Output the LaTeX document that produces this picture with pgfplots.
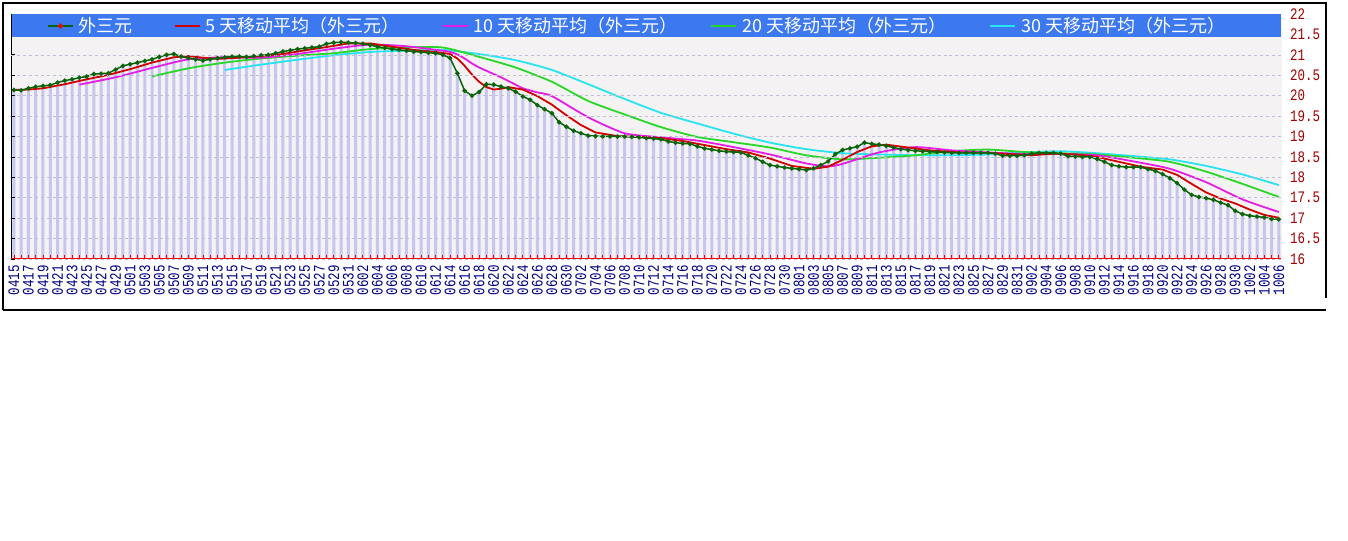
\documentclass[border=0pt]{standalone}
\usepackage{pgfplots}
\pgfplotsset{compat=1.18}
\usepackage{pgfplotstable}
\usepackage{fontspec}
\setmainfont{Liberation Sans}
\newfontfamily\cjk{Noto Sans CJK SC}
\newfontfamily\tickfont[FakeStretch=0.78]{Liberation Mono}

\definecolor{legblue}{RGB}{60,120,240}
\definecolor{barlav}{RGB}{198,198,240}
\definecolor{gridc}{RGB}{190,190,215}
\definecolor{paper}{RGB}{244,242,242}
\definecolor{pricegreen}{RGB}{10,100,10}
\definecolor{dotred}{RGB}{215,15,15}
\definecolor{maA}{RGB}{210,0,0}
\definecolor{maB}{RGB}{228,30,228}
\definecolor{maC}{RGB}{40,215,40}
\definecolor{maD}{RGB}{40,228,240}
\definecolor{ylab}{RGB}{160,0,0}
\definecolor{xlab}{RGB}{0,0,128}

% day index 0 = 0415 ... 174 = 1006
\pgfplotstableread[row sep=\\]{
d p\\
0 20.14\\ 1 20.13\\ 2 20.18\\ 3 20.22\\ 4 20.24\\ 5 20.26\\ 6 20.32\\ 7 20.37\\ 8 20.40\\ 9 20.44\\
10 20.47\\ 11 20.53\\ 12 20.54\\ 13 20.55\\ 14 20.64\\ 15 20.73\\ 16 20.77\\ 17 20.81\\ 18 20.85\\ 19 20.89\\
20 20.95\\ 21 21.00\\ 22 21.02\\ 23 20.96\\ 24 20.92\\ 25 20.89\\ 26 20.86\\ 27 20.89\\ 28 20.92\\ 29 20.94\\
30 20.96\\ 31 20.96\\ 32 20.95\\ 33 20.97\\ 34 20.99\\ 35 21.00\\ 36 21.04\\ 37 21.08\\ 38 21.11\\ 39 21.14\\
40 21.16\\ 41 21.18\\ 42 21.20\\ 43 21.27\\ 44 21.30\\ 45 21.31\\ 46 21.30\\ 47 21.29\\ 48 21.27\\ 49 21.24\\
50 21.20\\ 51 21.17\\ 52 21.14\\ 53 21.12\\ 54 21.10\\ 55 21.08\\ 56 21.07\\ 57 21.05\\ 58 21.04\\ 59 21.00\\
60 20.92\\ 61 20.55\\ 62 20.12\\ 63 20.00\\ 64 20.09\\ 65 20.28\\ 66 20.27\\ 67 20.22\\ 68 20.18\\ 69 20.10\\
70 19.98\\ 71 19.90\\ 72 19.77\\ 73 19.67\\ 74 19.57\\ 75 19.35\\ 76 19.24\\ 77 19.14\\ 78 19.08\\ 79 19.02\\
80 19.01\\ 81 19.00\\ 82 19.00\\ 83 19.00\\ 84 19.00\\ 85 18.99\\ 86 18.98\\ 87 18.96\\ 88 18.95\\ 89 18.93\\
90 18.88\\ 91 18.85\\ 92 18.83\\ 93 18.82\\ 94 18.76\\ 95 18.71\\ 96 18.68\\ 97 18.65\\ 98 18.63\\ 99 18.62\\
100 18.61\\ 101 18.54\\ 102 18.47\\ 103 18.38\\ 104 18.30\\ 105 18.27\\ 106 18.24\\ 107 18.22\\ 108 18.20\\ 109 18.18\\
110 18.22\\ 111 18.30\\ 112 18.39\\ 113 18.57\\ 114 18.67\\ 115 18.71\\ 116 18.75\\ 117 18.85\\ 118 18.82\\ 119 18.80\\
120 18.77\\ 121 18.73\\ 122 18.69\\ 123 18.67\\ 124 18.65\\ 125 18.64\\ 126 18.63\\ 127 18.62\\ 128 18.61\\ 129 18.60\\
130 18.60\\ 131 18.60\\ 132 18.60\\ 133 18.60\\ 134 18.60\\ 135 18.58\\ 136 18.53\\ 137 18.53\\ 138 18.53\\ 139 18.54\\
140 18.58\\ 141 18.60\\ 142 18.60\\ 143 18.60\\ 144 18.58\\ 145 18.52\\ 146 18.51\\ 147 18.50\\ 148 18.50\\ 149 18.45\\
150 18.38\\ 151 18.30\\ 152 18.27\\ 153 18.25\\ 154 18.25\\ 155 18.25\\ 156 18.20\\ 157 18.16\\ 158 18.08\\ 159 17.98\\
160 17.86\\ 161 17.70\\ 162 17.57\\ 163 17.52\\ 164 17.49\\ 165 17.45\\ 166 17.38\\ 167 17.32\\ 168 17.18\\ 169 17.10\\
170 17.06\\ 171 17.04\\ 172 17.02\\ 173 16.98\\ 174 16.97\\
}\price

\pgfplotstableread[row sep=\\]{
d m\\
0 20.14\\ 2 20.15\\ 4 20.18\\ 7 20.28\\ 10 20.40\\ 13 20.51\\ 16 20.65\\ 19 20.81\\ 22 20.94\\ 24 20.97\\
26 20.93\\ 28 20.90\\ 31 20.93\\ 34 20.97\\ 37 21.02\\ 40 21.11\\ 43 21.19\\ 46 21.28\\ 49 21.28\\ 52 21.20\\
55 21.12\\ 58 21.07\\ 60 21.02\\ 61 20.91\\ 62 20.73\\ 63 20.52\\ 64 20.34\\ 65 20.21\\ 66 20.15\\ 67 20.17\\
68 20.21\\ 70 20.15\\ 72 19.99\\ 74 19.78\\ 76 19.52\\ 78 19.28\\ 80 19.10\\ 83 19.01\\ 86 18.99\\ 89 18.96\\
92 18.89\\ 95 18.79\\ 98 18.69\\ 101 18.61\\ 104 18.46\\ 107 18.28\\ 110 18.21\\ 112 18.26\\ 114 18.43\\ 116 18.62\\
118 18.76\\ 120 18.80\\ 123 18.73\\ 126 18.66\\ 130 18.61\\ 134 18.60\\ 137 18.57\\ 140 18.54\\ 143 18.58\\ 146 18.56\\
149 18.50\\ 152 18.38\\ 155 18.26\\ 158 18.19\\ 160 18.06\\ 162 17.84\\ 164 17.63\\ 166 17.48\\ 168 17.36\\ 170 17.21\\
172 17.08\\ 174 17.01\\
}\mafive

\pgfplotstableread[row sep=\\]{
d m\\
9 20.27\\ 14 20.45\\ 19 20.68\\ 24 20.89\\ 29 20.94\\ 34 20.93\\ 39 21.02\\ 44 21.15\\ 49 21.25\\ 54 21.21\\
59 21.10\\ 60 21.07\\ 61 21.01\\ 62 20.91\\ 63 20.79\\ 64 20.69\\ 65 20.61\\ 66 20.53\\ 67 20.45\\ 68 20.36\\
69 20.27\\ 70 20.18\\ 72 20.08\\ 74 19.99\\ 79 19.47\\ 84 19.08\\ 89 18.98\\ 94 18.90\\ 99 18.74\\ 104 18.56\\
109 18.34\\ 112 18.27\\ 114 18.33\\ 119 18.61\\ 124 18.74\\ 129 18.66\\ 134 18.61\\ 139 18.57\\ 144 18.57\\ 149 18.54\\
154 18.39\\ 159 18.21\\ 164 17.88\\ 169 17.46\\ 174 17.15\\
}\maten

\pgfplotstableread[row sep=\\]{
d m\\
19 20.47\\ 24 20.67\\ 29 20.81\\ 34 20.91\\ 39 20.98\\ 44 21.04\\ 49 21.14\\ 54 21.18\\ 59 21.18\\ 64 20.95\\
69 20.69\\ 74 20.34\\ 79 19.87\\ 84 19.54\\ 89 19.23\\ 94 18.99\\ 99 18.86\\ 104 18.73\\ 109 18.54\\ 114 18.44\\
119 18.48\\ 124 18.54\\ 129 18.64\\ 134 18.68\\ 139 18.62\\ 144 18.59\\ 149 18.56\\ 154 18.48\\ 159 18.38\\ 164 18.14\\
169 17.84\\ 174 17.52\\
}\matwenty

\pgfplotstableread[row sep=\\]{
d m\\
29 20.63\\ 34 20.76\\ 39 20.88\\ 44 20.99\\ 49 21.07\\ 54 21.10\\ 59 21.12\\ 64 21.02\\ 69 20.87\\ 74 20.63\\
79 20.28\\ 84 19.92\\ 89 19.58\\ 94 19.32\\ 99 19.07\\ 104 18.85\\ 109 18.69\\ 114 18.59\\ 119 18.56\\ 124 18.54\\
129 18.54\\ 134 18.56\\ 139 18.61\\ 144 18.64\\ 149 18.59\\ 154 18.52\\ 159 18.44\\ 164 18.28\\ 169 18.07\\ 174 17.81\\
}\mathirty

\begin{document}
\begin{tikzpicture}
\path[use as bounding box] (0,0) rectangle (1348bp,541bp);
\begin{axis}[
  scale only axis, width=1270bp, height=245bp,
  at={(11bp,282bp)}, anchor=south west,
  xmin=-0.4, xmax=174.3, ymin=16, ymax=22,
  axis on top,
  axis background/.style={fill=paper},
  axis line style={draw=none},
  tick align=inside, major tick length=3.5bp, minor tick length=3.5bp,
  xtick pos=bottom,
  xtick={0,2,...,174}, minor xtick={1,3,...,173},
  xtick style={red, line width=0.8bp},
  minor x tick style={red, line width=0.8bp},
  xticklabels={0415,0417,0419,0421,0423,0425,0427,0429,
    0501,0503,0505,0507,0509,0511,0513,0515,0517,0519,0521,0523,0525,0527,0529,0531,
    0602,0604,0606,0608,0610,0612,0614,0616,0618,0620,0622,0624,0626,0628,0630,
    0702,0704,0706,0708,0710,0712,0714,0716,0718,0720,0722,0724,0726,0728,0730,
    0801,0803,0805,0807,0809,0811,0813,0815,0817,0819,0821,0823,0825,0827,0829,0831,
    0902,0904,0906,0908,0910,0912,0914,0916,0918,0920,0922,0924,0926,0928,0930,
    1002,1004,1006},
  xticklabel style={rotate=90, anchor=east, inner sep=0pt, text=xlab,
    font=\tickfont\fontsize{16bp}{16bp}\selectfont},
  xticklabel shift=6bp,
  ytick={16,16.5,17,17.5,18,18.5,19,19.5,20,20.5,21},
  yticklabels={16,16.5,17,17.5,18,18.5,19,19.5,20,20.5,21},
  extra y ticks={21.5,22},
  extra y tick labels={21.5,22},
  extra y tick style={grid=none, tick style={draw=none}},
  ytick pos=left, yticklabel pos=right,
  ytick style={black, line width=0.8bp},
  yticklabel style={anchor=west, inner sep=0pt, text=ylab,
    font=\tickfont\fontsize{16bp}{16bp}\selectfont},
  yticklabel shift=9bp,
  ymajorgrids,
  major grid style={gridc, dashed, line width=0.6bp},
  legend columns=5, reverse legend, legend cell align=left,
  legend image code/.code={\draw[#1] (0bp,0bp) -- (25bp,0bp);},
  legend style={at={(0.0283,0.951)}, anchor=west, fill=none, draw=none,
    inner sep=0pt, nodes={inner sep=0pt, text=white,
    font=\cjk\fontsize{18bp}{18bp}\selectfont},
    /tikz/every even column/.append style={column sep=0pt}},
]
\addplot[ybar, bar width=3bp, bar shift=0pt, fill=barlav, draw=none, forget plot]
  table[x=d, y=p] {\price};

\addplot[maD, line width=1.8bp, smooth, tension=0.4] table[x=d, y=m] {\mathirty};
\addlegendentry{\makebox[252bp][l]{\hspace{5bp}30 天移动平均（外三元）}}
\addplot[maC, line width=1.8bp, smooth, tension=0.4] table[x=d, y=m] {\matwenty};
\addlegendentry{\makebox[252bp][l]{\hspace{5bp}20 天移动平均（外三元）}}
\addplot[maB, line width=1.8bp, smooth, tension=0.4] table[x=d, y=m] {\maten};
\addlegendentry{\makebox[242bp][l]{\hspace{5bp}10 天移动平均（外三元）}}
\addplot[maA, line width=1.8bp] table[x=d, y=m] {\mafive};
\addlegendentry{\makebox[241bp][l]{\hspace{5bp}5 天移动平均（外三元）}}
\addplot[pricegreen, line width=1.5bp, mark=*, mark size=1.4bp,
  mark options={draw=none, fill=dotred},
  legend image code/.code={\draw[pricegreen, line width=1.8bp] (0bp,0bp) -- (25bp,0bp);
    \fill[dotred] (12.5bp,0bp) circle (1.8bp);}]
  table[x=d, y=p] {\price};
\addlegendentry{\makebox[100bp][l]{\hspace{5bp}外三元}}

\fill[legblue] (rel axis cs:0,0.906) rectangle (rel axis cs:1,1);
\draw[black, line width=1bp] (rel axis cs:0,0) -- (rel axis cs:0,1);
\draw[red, line width=1bp] (rel axis cs:0,0) -- (rel axis cs:1,0);
\draw[gray!60, line width=0.8bp] (rel axis cs:1,0) -- (rel axis cs:1,1);
\end{axis}
\draw[black, line width=1.5bp] (3bp,231bp) -- (3bp,538bp) -- (1326bp,538bp) -- (1326bp,243bp);
\draw[black, line width=1.5bp] (3bp,231bp) -- (1326bp,231bp);
\end{tikzpicture}
\end{document}
